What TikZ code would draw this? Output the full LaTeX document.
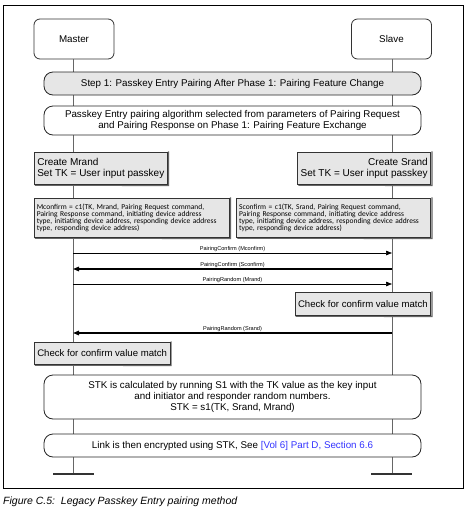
\documentclass[tikz,border=0pt]{standalone}
\usepackage{fontspec}
\setmainfont{Liberation Sans}
\newfontfamily\smallfont{Carlito}
\usetikzlibrary{arrows.meta}
\definecolor{boxgray}{HTML}{E6E6E6}
\definecolor{linegray}{HTML}{666666}
\definecolor{linkblue}{HTML}{3333FF}
\tikzset{
  x=1pt,y=-1pt,
  actor/.style={draw=black!80,line width=0.8pt,rounded corners=6pt,fill=white,minimum width=80pt,minimum height=40pt,font=\fontsize{9.8}{11}\selectfont},
  pill/.style={draw=black!85,line width=0.8pt,rounded corners=9pt,minimum width=377pt,align=center,inner sep=1pt,font=\fontsize{9.8}{11}\selectfont},
  sqbox/.style={draw=black!80,line width=0.6pt,fill=boxgray,inner sep=3pt,
    append after command={\pgfextra{\draw[linegray,line width=1.2pt] ([xshift=0.9pt,yshift=-0.6pt]\tikzlastnode.south west)--([xshift=0.9pt,yshift=-0.9pt]\tikzlastnode.south east)--([xshift=0.9pt,yshift=0.6pt]\tikzlastnode.north east);}}},
  conf/.style={sqbox,minimum height=39pt,align=left,inner sep=2.5pt,font=\smallfont\fontsize{7.5}{6.8}\selectfont},
  lifeline/.style={linegray,line width=0.9pt},
  msg/.style={-{Triangle[length=6pt,width=4.5pt]},line width=0.7pt},
  msgb/.style={-{Triangle[length=6pt,width=4.5pt]},line width=1.4pt},
  msglabel/.style={font=\fontsize{5.6}{6}\selectfont,inner sep=1pt}
}
\begin{document}
\begin{tikzpicture}
\useasboundingbox (0,0) rectangle (470,515);
\fill[white] (0,0) rectangle (470,515);
\draw[black,line width=0.8pt] (3,5) rectangle (463,488);
% actors
\node[actor] (master) at (74,39) {Master};
\node[actor] (slave) at (391.5,39) {Slave};
\coordinate (mend) at (73,474);
\coordinate (send) at (392,474);
\draw[lifeline] (master.south -| mend) -- (mend);
\draw[lifeline] (slave.south -| send) -- (send);
\draw[black!80,line width=1.4pt] (53,474) -- (94,474);
\draw[black!80,line width=1.4pt] (371,474) -- (412,474);
% pills
\node[pill,fill=boxgray,minimum height=23pt] (step) at (232.5,83.5) {Step 1: Passkey Entry Pairing After Phase 1: Pairing Feature Change};
\node[pill,fill=white,minimum height=29pt] (algo) at (232.5,120.5) {Passkey Entry pairing algorithm selected from parameters of Pairing Request\\and Pairing Response on Phase 1: Pairing Feature Exchange};
% create boxes
\node[sqbox,anchor=north west,minimum width=132pt,minimum height=32pt,align=left,font=\fontsize{10}{11}\selectfont] (cm) at (34,152) {Create Mrand\\Set TK = User input passkey};
\node[sqbox,anchor=north east,minimum width=133pt,minimum height=32pt,align=right,font=\fontsize{10}{11}\selectfont] (cs) at (431,152) {Create Srand\\Set TK = User input passkey};
% confirm boxes
\node[conf,anchor=north west,minimum width=195pt,text width=190pt] (mc) at (34,198) {Mconfirm = c1(TK, Mrand, Pairing Request command,\\Pairing Response command, initiating device address\\type, initiating device address, responding device address\\type, responding device address)};
\node[conf,anchor=north east,minimum width=194pt,text width=189pt] (sc) at (431,198) {Sconfirm = c1(TK, Srand, Pairing Request command,\\Pairing Response command, initiating device address\\type, initiating device address, responding device address\\type, responding device address)};
% messages
\coordinate (m1) at (73,253); \coordinate (s1) at (392,253);
\coordinate (m2) at (73,269); \coordinate (s2) at (392,269);
\coordinate (m3) at (73,284); \coordinate (s3) at (392,284);
\coordinate (m4) at (73,333); \coordinate (s4) at (392,333);
\draw[msg] (m1) -- node[msglabel,above] {PairingConfirm (Mconfirm)} (s1);
\draw[msgb] (s2) -- node[msglabel,above] {PairingConfirm (Sconfirm)} (m2);
\draw[msg] (m3) -- node[msglabel,above] {PairingRandom (Mrand)} (s3);
\draw[msgb] (s4) -- node[msglabel,above] {PairingRandom (Srand)} (m4);
% check boxes
\node[sqbox,anchor=north east,minimum width=134pt,minimum height=23pt,font=\fontsize{9.6}{11}\selectfont] (chks) at (431,292) {Check for confirm value match};
\node[sqbox,anchor=north west,minimum width=134pt,minimum height=22pt,font=\fontsize{9.6}{11}\selectfont] (chkm) at (34,342) {Check for confirm value match};
% stk
\node[pill,fill=white,minimum height=44pt] (stk) at (232.5,397) {STK is calculated by running S1 with the TK value as the key input\\and initiator and responder random numbers.\\STK = s1(TK, Srand, Mrand)};
\node[pill,fill=white,minimum height=23pt] (link) at (232.5,445.5) {Link is then encrypted using STK, See \textcolor{linkblue}{[Vol 6] Part D, Section 6.6}};
% caption
\node[anchor=west,font=\itshape\fontsize{10.5}{12}\selectfont,inner sep=0pt] (cap) at (3,502) {Figure C.5:\ \ Legacy Passkey Entry pairing method};
\end{tikzpicture}
\end{document}
